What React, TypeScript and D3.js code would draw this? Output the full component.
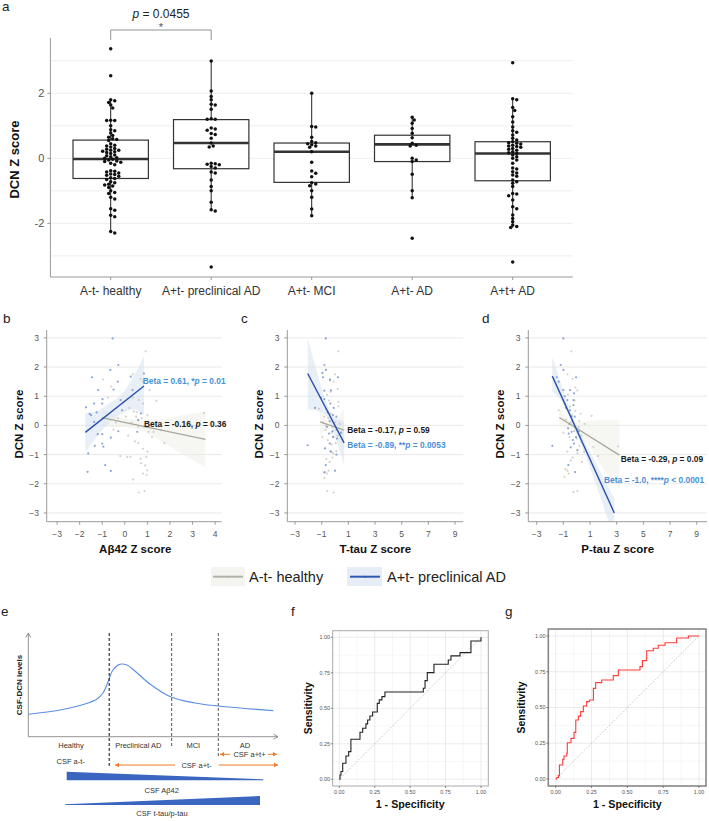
import React from "react";
import * as d3 from "d3";

const FONT = "'Liberation Sans', Arial, Helvetica, sans-serif";

// ---------- Panel a data ----------
const groups = ["A-t- healthy", "A+t- preclinical AD", "A+t- MCI", "A+t- AD", "A+t+ AD"];
const healthy = [3.37, 2.54, 1.8, 1.77, 1.72, 1.64, 1.55, 1.17, 1.16, 1.16, 1.0, 0.88, 0.85, 0.78, 0.7, 0.65, 0.6, 0.58, 0.55, 0.45, 0.4, 0.38, 0.35, 0.3, 0.28, 0.25, 0.25, 0.22, 0.2, 0.18, 0.15, 0.1, 0.08, 0.05, 0.02, 0.0, -0.03, -0.05, -0.08, -0.1, -0.12, -0.15, -0.2, -0.38, -0.4, -0.42, -0.45, -0.48, -0.5, -0.52, -0.55, -0.6, -0.62, -0.65, -0.72, -0.75, -0.8, -0.82, -0.85, -0.9, -1.0, -1.05, -1.08, -1.2, -1.25, -1.55, -1.6, -1.75, -1.8, -2.25, -2.3];
const preclinical = [2.99, 2.07, 1.9, 1.8, 1.66, 1.64, 1.51, 1.22, 1.2, 1.2, 0.93, 0.9, 0.86, 0.76, 0.73, 0.62, 0.47, 0.38, 0.35, -0.15, -0.17, -0.18, -0.2, -0.25, -0.3, -0.42, -0.45, -0.67, -0.87, -1.0, -1.35, -1.58, -1.62, -3.34];
const mci = [2.0, 0.98, 0.96, 0.65, 0.52, 0.48, 0.45, 0.42, 0.38, 0.34, 0.2, -0.12, -0.39, -0.46, -0.57, -0.75, -0.79, -0.84, -1.0, -1.2, -1.56, -1.77];
const atAd = [1.26, 1.18, 1.08, 0.92, 0.77, 0.63, 0.46, 0.4, 0.38, 0.0, -0.05, -0.1, -0.49, -1.0, -1.21, -2.46];
const atPlusAd = [2.94, 1.83, 1.8, 1.56, 1.47, 1.28, 1.12, 0.96, 0.85, 0.8, 0.72, 0.62, 0.56, 0.51, 0.48, 0.46, 0.44, 0.4, 0.38, 0.36, 0.34, 0.3, 0.28, 0.25, 0.2, 0.17, 0.15, 0.1, 0.05, 0.0, -0.05, -0.15, -0.3, -0.33, -0.41, -0.45, -0.51, -0.55, -0.67, -0.72, -0.77, -0.87, -1.08, -1.1, -1.15, -1.28, -1.49, -1.55, -1.74, -1.85, -1.95, -2.05, -2.1, -2.13, -3.19];
const groupValues = [healthy, preclinical, mci, atAd, atPlusAd];
const boxQ1 = [-0.62, -0.32, -0.74, -0.1, -0.69];
const boxMed = [-0.02, 0.47, 0.2, 0.43, 0.15];
const boxQ3 = [0.56, 1.19, 0.47, 0.71, 0.51];
const whiskLo = [-2.3, -1.62, -1.77, -1.21, -2.13];
const whiskHi = [1.77, 2.99, 2.0, 1.26, 1.83];
const aTicks = [-2, 0, 2];
const aGrid = [-3, -2, -1, 0, 1, 2, 3];

// ---------- Panels b, c, d data ----------
const bBlue = [[-0.54,2.98],[-0.29,2.07],[-0.64,1.9],[-1.45,1.65],[0.26,1.67],[-0.31,1.5],[0.85,1.78],[-1.18,1.21],[-0.5,1.23],[0.34,1.21],[-0.99,0.9],[-1.72,0.62],[-1.56,0.4],[-1.5,0.35],[-1.36,0.75],[-1.0,0.75],[-0.19,0.87],[-0.12,0.52],[-1.36,0.12],[-1.2,-0.3],[-1.0,-0.3],[-0.62,-0.42],[-1.0,-0.62],[-1.33,-0.7],[-0.95,-0.73],[-1.62,-0.96],[-0.87,-1.36],[-0.62,-1.56],[-1.65,-1.59],[0.55,-0.22],[-0.29,-0.2],[0.59,0.18],[0.71,0.41],[-1.25,0.45]];
const bGray = [[0.92,2.54],[0.35,1.75],[0.7,1.6],[0.8,1.5],[-0.97,1.57],[-0.6,1.33],[-0.06,0.81],[0.35,0.95],[0.62,0.87],[0.81,0.75],[0.52,0.46],[1.0,0.35],[1.4,0.84],[1.1,1.21],[1.6,-0.16],[3.5,0.42],[0.2,0.6],[0.4,0.48],[0.5,0.3],[0.05,0.3],[-0.4,0.1],[-0.3,0.25],[0.75,0.25],[0.85,-0.05],[1.05,-0.22],[1.27,-0.22],[1.75,-0.6],[0.6,-0.05],[0.25,-1.08],[-0.2,-1.05],[0.1,-1.08],[0.95,-1.08],[1.0,-0.9],[0.9,-1.37],[0.72,-1.3],[0.99,-1.54],[0.8,-1.65],[0.37,-1.85],[0.62,-2.3],[0.87,-2.25],[0.7,-1.15],[0.97,-1.7],[-0.75,0.95],[0.15,-0.35],[0.45,-0.55],[0.6,-0.6],[0.8,-0.8],[1.2,-0.4],[-0.5,-0.15],[0.3,0.1]];
const cBlue = [[-0.7,2.98],[-0.8,2.07],[-0.68,1.9],[-0.95,1.8],[-0.9,1.65],[0.22,1.65],[-0.38,1.55],[-0.3,1.2],[-0.8,1.19],[-1.5,0.6],[-2.05,-0.68],[-0.8,0.9],[-0.35,0.75],[-0.15,0.35],[0.1,0.3],[-0.4,0.15],[-0.6,-0.05],[-0.15,-0.39],[-0.4,-0.62],[-0.75,-0.79],[0.1,-1.0],[-0.7,-1.36],[0.0,-1.55],[-0.8,-1.61],[-0.2,-0.2],[-0.45,-0.28],[0.15,-0.45],[-0.1,0.6],[-0.55,0.45],[-1.05,0.95],[0.45,-0.25],[-0.3,-0.9]];
const cGray = [[0.25,2.54],[-0.38,1.6],[-0.1,1.5],[0.2,1.25],[-0.6,1.05],[0.25,0.81],[0.25,0.65],[-0.5,0.25],[-0.9,0.1],[-1.2,0.57],[-0.7,-0.15],[-0.25,-0.25],[-0.1,-0.4],[-0.55,-0.5],[-0.25,-0.65],[-0.38,-0.88],[0.1,-0.88],[-0.15,-0.95],[-0.65,-1.15],[-0.4,-1.25],[-0.75,-1.6],[-0.5,-1.55],[-0.58,-2.25],[-0.1,-2.3],[-0.8,-1.8],[-0.6,-1.65],[-0.3,0.4],[0.0,0.1],[-0.8,0.3],[0.1,-0.15],[-0.45,0.85],[0.35,0.05],[-0.95,-0.4],[-0.2,-1.1],[0.05,-0.6],[-0.65,0.55],[-0.35,1.15],[0.0,1.75],[-0.7,0.0],[0.2,-0.35]];
const dBlue = [[-1.0,2.98],[-1.2,2.07],[-1.0,1.9],[-1.5,1.65],[-1.35,1.5],[-0.05,1.65],[-1.0,1.21],[-0.5,1.21],[-0.7,0.87],[-0.25,0.87],[-0.5,0.52],[-0.15,0.3],[-0.38,-0.22],[-0.6,-0.28],[-0.05,-0.4],[-0.2,-0.62],[0.05,-0.85],[-1.83,-0.7],[-0.63,-1.36],[-0.12,-1.6],[-0.45,-0.75],[-0.3,-0.5],[-0.8,0.6],[-0.4,0.3],[-0.9,1.0],[-0.2,1.1],[-0.65,-0.1],[0.15,-0.2],[-0.55,0.05],[-0.25,0.7]];
const dGray = [[-0.4,2.54],[-0.7,1.75],[-0.3,1.6],[0.05,1.2],[-0.65,1.05],[-0.5,0.65],[-1.35,0.52],[1.12,0.33],[3.1,-0.72],[1.25,-0.74],[0.55,-0.9],[1.6,-1.05],[0.2,-0.7],[0.05,-0.95],[-0.7,-0.9],[-0.85,-1.5],[-0.6,-1.65],[-0.45,0.1],[0.15,-0.05],[-0.2,-0.2],[-0.25,-2.28],[0.05,-2.25],[-0.92,-1.76],[-0.7,-1.55],[0.4,-1.25],[-0.1,0.5],[-0.35,0.35],[0.3,0.4],[-0.8,0.2],[-0.15,0.85],[0.0,-0.45],[-0.55,-0.4],[-1.0,-0.25],[0.35,-0.35],[-0.3,-1.1],[-0.1,1.3],[-0.9,0.75],[0.6,0.05],[-0.45,-1.2],[0.2,0.15]];

// regression lines [x0,y0,x1,y1]
const bBlueLine = [-1.75, -0.24, 0.85, 1.35];
const bGrayLine = [-1.02, 0.27, 3.57, -0.48];
const cBlueLine = [-2.05, 1.78, 0.68, -0.6];
const cGrayLine = [-1.13, 0.12, 0.68, -0.16];
const dBlueLine = [-1.83, 1.69, 2.82, -3.0];
const dGrayLine = [-1.3, 0.27, 3.2, -1.02];
// confidence bands [x, lo, hi]
const bBlueBand = [[-1.75, -0.9, 0.42], [-1.2, -0.35, 0.5], [-0.6, 0.15, 0.8], [0, 0.45, 1.2], [0.4, 0.55, 1.7], [0.85, 0.35, 2.38]];
const bGrayBand = [[-1.02, -0.05, 0.6], [0.2, -0.08, 0.22], [1.5, -0.49, 0.21], [2.5, -0.96, 0.34], [3.57, -1.43, 0.47]];
const cBlueBand = [[-2.05, 0.55, 3.0], [-1.4, 0.5, 1.9], [-0.7, 0.35, 0.85], [0, -0.4, 0.25], [0.68, -1.36, 0.15]];
const cGrayBand = [[-1.13, -0.3, 0.55], [-0.3, -0.12, 0.12], [0.68, -0.9, 0.55]];
const dBlueBand = [[-1.83, 1.15, 2.35], [-1.0, 0.75, 1.2], [-0.3, 0.0, 0.3], [0.5, -0.85, -0.45], [1.5, -2.1, -1.35], [2.82, -3.9, -2.5]];
const dGrayBand = [[-1.3, -0.05, 0.6], [-0.2, -0.2, 0.1], [1.0, -0.75, 0.15], [2.0, -1.5, 0.18], [3.2, -2.2, 0.18]];
const scYTicks = [-3, -2, -1, 0, 1, 2, 3];
const bXTicks = [-3, -2, -1, 0, 1, 2, 3, 4];
const cdXTicks = [-3, -1, 1, 3, 5, 7, 9];

// ---------- Panel e data ----------
const eCurveX = [0, 12.7, 22.7, 27.5, 29.9, 31.9, 33.9, 36.7, 39.5, 42.7, 48.7, 57.4, 66.7, 76, 86.8, 98.1];
const eCurveY = [0.216, 0.257, 0.315, 0.364, 0.421, 0.527, 0.643, 0.698, 0.691, 0.634, 0.508, 0.38, 0.325, 0.296, 0.272, 0.251];
const eStages = ["Healthy", "Preclinical AD", "MCI", "AD"];
const eBounds = [32.4, 57.4, 76.1];

// ---------- Panels f, g data ----------
const fFpr = [0,0.005,0.012,0.024,0.047,0.066,0.082,0.146,0.165,0.188,0.2,0.216,0.235,0.268,0.282,0.301,0.322,0.593,0.605,0.621,0.668,0.769,0.788,0.852,0.929,1];
const fTpr = [0,0.03,0.055,0.113,0.164,0.195,0.282,0.331,0.359,0.39,0.418,0.446,0.474,0.535,0.559,0.582,0.615,0.641,0.695,0.751,0.81,0.84,0.869,0.892,0.974,1];
const gFpr = [0,0.007,0.019,0.026,0.049,0.058,0.077,0.081,0.107,0.128,0.14,0.158,0.174,0.193,0.216,0.235,0.263,0.279,0.321,0.402,0.437,0.588,0.605,0.635,0.681,0.716,0.763,0.844,0.926,1];
const gTpr = [0,0.01,0.025,0.098,0.137,0.161,0.18,0.254,0.284,0.326,0.413,0.44,0.471,0.51,0.541,0.552,0.634,0.674,0.692,0.723,0.762,0.786,0.828,0.897,0.914,0.935,0.953,0.986,1,1];
const rocTicks = [0, 0.25, 0.5, 0.75, 1];

// ---------- helpers ----------
function swarm(vals: number[], y: (v: number) => number, r: number) {
  const placed: { x: number; y: number }[] = [];
  const sorted = [...vals].sort((a, b) => b - a);
  for (const v of sorted) {
    const py = y(v);
    for (let k = 0; k < 40; k++) {
      const off = k === 0 ? 0 : (k % 2 ? 1 : -1) * Math.ceil(k / 2) * r * 1.15;
      const hit = placed.some((p) => (p.x - off) ** 2 + (p.y - py) ** 2 < (2 * r * 0.92) ** 2);
      if (!hit) { placed.push({ x: off, y: py }); break; }
    }
  }
  return placed;
}
const fmtMinus = (v: number) => (v < 0 ? "\u2212" + Math.abs(v) : String(v));

function PanelA() {
  const L = 50.4, R = 572.8, T = 38, B = 277;
  const y = d3.scaleLinear().domain([-3.65, 3.7]).range([B, T]);
  const x = d3.scalePoint<string>().domain(groups).range([110.7, 512.7]);
  const step = 100.5;
  const hw = step * 0.375;
  return (
    <g>
      <text x={2} y={11} fontSize={13.5} fontFamily={FONT} fill="#222">a</text>
      {aGrid.map((g) => (
        <line key={g} x1={L} x2={R} y1={y(g)} y2={y(g)} stroke="#ebebeb" strokeWidth={0.9} />
      ))}
      {groups.map((g, i) => {
        const cx = x(g)!;
        return (
          <g key={g}>
            <line x1={cx} x2={cx} y1={y(whiskHi[i])} y2={y(boxQ3[i])} stroke="#222" strokeWidth={1} />
            <line x1={cx} x2={cx} y1={y(boxQ1[i])} y2={y(whiskLo[i])} stroke="#222" strokeWidth={1} />
            <rect x={cx - hw} y={y(boxQ3[i])} width={hw * 2} height={y(boxQ1[i]) - y(boxQ3[i])} fill="white" stroke="#333" strokeWidth={1.2} />
            <line x1={cx - hw} x2={cx + hw} y1={y(boxMed[i])} y2={y(boxMed[i])} stroke="#333" strokeWidth={2.6} />
          </g>
        );
      })}
      {groups.map((g, i) => {
        const cx = x(g)!;
        return swarm(groupValues[i], y, 1.75).map((p, j) => (
          <circle key={g + j} cx={cx + p.x} cy={p.y} r={1.75} fill="#111" />
        ));
      })}
      <line x1={L} x2={L} y1={T} y2={B} stroke="#999" strokeWidth={1} />
      <line x1={L} x2={R} y1={B} y2={B} stroke="#999" strokeWidth={1} />
      {aTicks.map((t) => (
        <g key={t}>
          <line x1={L - 3} x2={L} y1={y(t)} y2={y(t)} stroke="#999" />
          <text x={L - 6} y={y(t) + 4} fontSize={11} textAnchor="end" fontFamily={FONT} fill="#555">{t}</text>
        </g>
      ))}
      {groups.map((g) => (
        <g key={g}>
          <line x1={x(g)} x2={x(g)} y1={B} y2={B + 3} stroke="#999" />
          <text x={x(g)} y={295} fontSize={12} textAnchor="middle" fontFamily={FONT} fill="#333">{g}</text>
        </g>
      ))}
      <text transform={`translate(19,${(T + B) / 2 + 2}) rotate(-90)`} fontSize={13} fontWeight="bold" textAnchor="middle" fontFamily={FONT} fill="#111">DCN Z score</text>
      <path d={`M${x(groups[0])},40V30H${x(groups[1])}V40`} fill="none" stroke="#777" strokeWidth={0.8} />
      <text x={(x(groups[0])! + x(groups[1])!) / 2} y={31} fontSize={11} textAnchor="middle" fontFamily={FONT} fill="#555">*</text>
      <text x={(x(groups[0])! + x(groups[1])!) / 2} y={18} fontSize={12} textAnchor="middle" fontFamily={FONT} fill="#222">
        <tspan fontStyle="italic">p</tspan> = 0.0455
      </text>
    </g>
  );
}

type Seg = [string, boolean];
type Txt = { x: number; y: number; color: string; segs: Seg[] };

function Scatter(props: {
  id: string; left: number; right: number; xDomain: [number, number]; xTicks: number[]; xTitle: string;
  label: string; labelX: number; yTitleX: number; tickLabelX: number;
  gray: number[][]; blue: number[][]; grayLine: number[]; blueLine: number[]; grayBand: number[][]; blueBand: number[][]; texts: Txt[];
}) {
  const T = 330, B = 521.7;
  const { left: L, right: R } = props;
  const x = d3.scaleLinear().domain(props.xDomain).range([L, R]);
  const y = d3.scaleLinear().domain([-3.3, 3.27]).range([B, T]);
  const area = d3.area<number[]>().x((d) => x(d[0])).y0((d) => y(d[1])).y1((d) => y(d[2])).curve(d3.curveMonotoneX);
  const line = (l: number[]) => d3.line<number[]>().x((d) => x(d[0])).y((d) => y(d[1]))([[l[0], l[1]], [l[2], l[3]]]);
  return (
    <g>
      <defs>
        <clipPath id={props.id}><rect x={L} y={T} width={R - L} height={B - T} /></clipPath>
      </defs>
      <text x={props.labelX} y={323} fontSize={13.5} fontFamily={FONT} fill="#222">{props.label}</text>
      {scYTicks.map((t) => (
        <line key={t} x1={L} x2={R} y1={y(t)} y2={y(t)} stroke="#e6e6e6" strokeWidth={0.9} />
      ))}
      <g clipPath={`url(#${props.id})`}>
        <path d={area(props.grayBand)!} fill="#ecece4" opacity={0.45} />
        <path d={area(props.blueBand)!} fill="#d3e0ef" opacity={0.5} />
        {props.gray.map((p, i) => (
          <circle key={"g" + i} cx={x(p[0])} cy={y(p[1])} r={1.1} fill="#c4c1b1" opacity={0.7} />
        ))}
        {props.blue.map((p, i) => (
          <circle key={"b" + i} cx={x(p[0])} cy={y(p[1])} r={1.1} fill="#6b90cb" opacity={0.8} />
        ))}
        <path d={line(props.grayLine)!} stroke="#a9a89c" strokeWidth={1.3} fill="none" />
        <path d={line(props.blueLine)!} stroke="#2a4fa8" strokeWidth={1.4} fill="none" />
      </g>
      <line x1={L} x2={L} y1={T} y2={B} stroke="#9a9a9a" strokeWidth={1} />
      <line x1={L} x2={R} y1={B} y2={B} stroke="#9a9a9a" strokeWidth={1} />
      {scYTicks.map((t) => (
        <g key={t}>
          <line x1={L - 3} x2={L} y1={y(t)} y2={y(t)} stroke="#9a9a9a" />
          <text x={props.tickLabelX} y={y(t) + 3} fontSize={8.5} textAnchor="end" fontFamily={FONT} fill="#555">{fmtMinus(t)}</text>
        </g>
      ))}
      {props.xTicks.map((t) => (
        <g key={t}>
          <line x1={x(t)} x2={x(t)} y1={B} y2={B + 3} stroke="#9a9a9a" />
          <text x={x(t)} y={537} fontSize={8.5} textAnchor="middle" fontFamily={FONT} fill="#555">{fmtMinus(t)}</text>
        </g>
      ))}
      <text x={(L + R) / 2 + (props.id === "clipb" ? 1 : 0)} y={553} fontSize={11.5} fontWeight="bold" textAnchor="middle" fontFamily={FONT} fill="#111">{props.xTitle}</text>
      <text transform={`translate(${props.yTitleX},424) rotate(-90)`} fontSize={11.5} fontWeight="bold" textAnchor="middle" fontFamily={FONT} fill="#111">DCN Z score</text>
      {props.texts.map((t, i) => (
        <text key={i} x={t.x} y={t.y} fontSize={8.4} fontWeight="bold" fontFamily={FONT} fill={t.color}>
          {t.segs.map((s, j) => (
            <tspan key={j} fontStyle={s[1] ? "italic" : "normal"}>{s[0]}</tspan>
          ))}
        </text>
      ))}
    </g>
  );
}

function Legend() {
  return (
    <g fontFamily={FONT}>
      <rect x={211} y={567} width={34} height={19} fill="#f4f4f1" />
      <line x1={213} x2={243} y1={576.7} y2={576.7} stroke="#b3b2a8" strokeWidth={2} />
      <circle cx={228} cy={576.7} r={1} fill="#b3b2a8" />
      <text x={249} y={582} fontSize={14.5} fill="#222">A-t- healthy</text>
      <rect x={347} y={567} width={35} height={19} fill="#e6edf6" />
      <line x1={350} x2={380} y1={576.7} y2={576.7} stroke="#2f58b3" strokeWidth={2} />
      <circle cx={365} cy={576.7} r={1} fill="#2f58b3" />
      <text x={387} y={582} fontSize={14.5} fill="#222">A+t- preclinical AD</text>
    </g>
  );
}

function PanelE() {
  const x = d3.scaleLinear().domain([0, 100]).range([28.3, 278]);
  const y = d3.scaleLinear().domain([0, 1]).range([736.7, 633]);
  const pts = eCurveX.map((v, i) => [v, eCurveY[i]]);
  const curve = d3.line<number[]>().x((d) => x(d[0])).y((d) => y(d[1])).curve(d3.curveCatmullRom.alpha(0.5))(pts);
  const stageCenters = [71, 138.3, 193.3, 245];
  const orange = "#f07a26";
  const arrowHead = (xx: number, yy: number, dir: number) => `M${xx - dir * 4},${yy - 2.2}L${xx},${yy}L${xx - dir * 4},${yy + 2.2}Z`;
  return (
    <g fontFamily={FONT}>
      <text x={1} y={616} fontSize={13.5} fill="#222">e</text>
      <line x1={28.3} x2={28.3} y1={634} y2={736.7} stroke="#777" strokeWidth={0.8} />
      <path d="M25.8,637.5L28.3,633L30.8,637.5" fill="none" stroke="#777" strokeWidth={0.8} />
      <line x1={28.3} x2={278} y1={736.7} y2={736.7} stroke="#777" strokeWidth={0.8} />
      <path d="M273.5,734.2L278,736.7L273.5,739.2" fill="none" stroke="#777" strokeWidth={0.8} />
      <path d={curve!} fill="none" stroke="#5b8fe0" strokeWidth={1.1} />
      <line x1={x(eBounds[0])} x2={x(eBounds[0])} y1={633} y2={768} stroke="#222" strokeWidth={1.1} strokeDasharray="3,2" />
      <line x1={x(eBounds[1])} x2={x(eBounds[1])} y1={633} y2={748} stroke="#666" strokeWidth={1.1} strokeDasharray="3,2" />
      <line x1={x(eBounds[2])} x2={x(eBounds[2])} y1={633} y2={757} stroke="#666" strokeWidth={1.1} strokeDasharray="3,2" />
      <text transform="translate(22,685) rotate(-90)" fontSize={8} fontWeight="bold" textAnchor="middle" fill="#222">CSF-DCN levels</text>
      {eStages.map((s, i) => (
        <text key={s} x={stageCenters[i]} y={748} fontSize={7.5} textAnchor="middle" fill="#333">{s}</text>
      ))}
      <text x={70.7} y={764} fontSize={7.5} textAnchor="middle" fill="#333">CSF a-t-</text>
      <line x1={220} x2={230} y1={754.3} y2={754.3} stroke={orange} strokeWidth={1} />
      <path d={arrowHead(220, 754.3, -1)} fill={orange} />
      <text x={249.5} y={757} fontSize={7.5} textAnchor="middle" fill="#333">CSF a+t+</text>
      <line x1={268} x2={277} y1={754.3} y2={754.3} stroke={orange} strokeWidth={1} />
      <path d={arrowHead(277, 754.3, 1)} fill={orange} />
      <line x1={115} x2={175} y1={765} y2={765} stroke={orange} strokeWidth={1} />
      <path d={arrowHead(115, 765, -1)} fill={orange} />
      <text x={196.5} y={767.7} fontSize={7.5} textAnchor="middle" fill="#333">CSF a+t-</text>
      <line x1={218.5} x2={278} y1={765} y2={765} stroke={orange} strokeWidth={1} />
      <path d={arrowHead(278, 765, 1)} fill={orange} />
      <path d="M66.7,771.7L263.3,779.3L263.3,780.3L66.7,780.3Z" fill="#3a66bf" />
      <text x={161.7} y={793} fontSize={7.5} textAnchor="middle" fill="#333">{"CSF A\u03b242"}</text>
      <path d="M65,804.3L260,796L260,805L65,805Z" fill="#3a66bf" />
      <text x={162} y={816} fontSize={7.5} textAnchor="middle" fill="#333">CSF t-tau/p-tau</text>
    </g>
  );
}

function Roc(props: {
  label: string; labelX: number; box: [number, number, number, number]; xr: [number, number]; yr: [number, number];
  fpr: number[]; tpr: number[]; color: string; border: string; borderW: number; tickLabelX: number; yTitleX: number;
}) {
  const [L, T, R, B] = props.box;
  const x = d3.scaleLinear().domain([0, 1]).range(props.xr);
  const y = d3.scaleLinear().domain([0, 1]).range(props.yr);
  const minor = [0.125, 0.375, 0.625, 0.875];
  const pts = props.fpr.map((v, i) => [v, props.tpr[i]]);
  const path = d3.line<number[]>().x((d) => x(d[0])).y((d) => y(d[1])).curve(d3.curveStepAfter)(pts);
  return (
    <g fontFamily={FONT}>
      <text x={props.labelX} y={616} fontSize={13.5} fill="#222">{props.label}</text>
      <rect x={L} y={T} width={R - L} height={B - T} fill="white" />
      {minor.map((t) => (
        <g key={"m" + t}>
          <line x1={x(t)} x2={x(t)} y1={T} y2={B} stroke="#f2f2f2" strokeWidth={0.6} />
          <line x1={L} x2={R} y1={y(t)} y2={y(t)} stroke="#f2f2f2" strokeWidth={0.6} />
        </g>
      ))}
      {rocTicks.map((t) => (
        <g key={"M" + t}>
          <line x1={x(t)} x2={x(t)} y1={T} y2={B} stroke="#e6e6e6" strokeWidth={0.8} />
          <line x1={L} x2={R} y1={y(t)} y2={y(t)} stroke="#e6e6e6" strokeWidth={0.8} />
        </g>
      ))}
      <line x1={x(0)} y1={y(0)} x2={x(1)} y2={y(1)} stroke="#aaa" strokeWidth={0.8} strokeDasharray="1,1.5" />
      <path d={path!} fill="none" stroke={props.color} strokeWidth={1.1} />
      <rect x={L} y={T} width={R - L} height={B - T} fill="none" stroke={props.border} strokeWidth={props.borderW} />
      {rocTicks.map((t) => (
        <g key={"t" + t}>
          <line x1={x(t)} x2={x(t)} y1={B} y2={B + 2} stroke="#444" strokeWidth={0.6} />
          <text x={x(t)} y={B + 7.5} fontSize={5.4} textAnchor="middle" fill="#555">{t.toFixed(2)}</text>
          <line x1={L - 2} x2={L} y1={y(t)} y2={y(t)} stroke="#444" strokeWidth={0.6} />
          <text x={props.tickLabelX} y={y(t) + 1.9} fontSize={5.4} textAnchor="end" fill="#555">{t.toFixed(2)}</text>
        </g>
      ))}
      <text x={(x(0) + x(1)) / 2} y={807.5} fontSize={10.7} fontWeight="bold" textAnchor="middle" fill="#111">1 - Specificity</text>
      <text transform={`translate(${props.yTitleX},${(y(0) + y(1)) / 2}) rotate(-90)`} fontSize={10.4} fontWeight="bold" textAnchor="middle" fill="#111">Sensitivity</text>
    </g>
  );
}

export default function App() {
  const blue = "#4a8fd6";
  const black = "#1a1a1a";
  return (
    <svg width={709} height={821} viewBox="0 0 709 821" style={{ position: "absolute", left: 0, top: 0, background: "white" }} fontFamily={FONT}>
      <rect x={0} y={0} width={709} height={821} fill="white" />
      <PanelA />
      <Scatter id="clipb" left={46.7} right={221.7} xDomain={[-3.46, 4.29]} xTicks={bXTicks} xTitle={"A\u03b242 Z score"}
        label="b" labelX={3} yTitleX={23} tickLabelX={39}
        gray={bGray} blue={bBlue} grayLine={bGrayLine} blueLine={bBlueLine} grayBand={bGrayBand} blueBand={bBlueBand}
        texts={[
          { x: 142.7, y: 383.5, color: blue, segs: [["Beta = 0.61, *", false], ["p", true], [" = 0.01", false]] },
          { x: 144, y: 427, color: black, segs: [["Beta = -0.16, ", false], ["p", true], [" = 0.36", false]] },
        ]} />
      <Scatter id="clipc" left={287.3} right={463.3} xDomain={[-3.58, 9.62]} xTicks={cdXTicks} xTitle="T-tau Z score"
        label="c" labelX={241} yTitleX={263} tickLabelX={279.5}
        gray={cGray} blue={cBlue} grayLine={cGrayLine} blueLine={cBlueLine} grayBand={cGrayBand} blueBand={cBlueBand}
        texts={[
          { x: 347.3, y: 432.5, color: black, segs: [["Beta = -0.17, ", false], ["p", true], [" = 0.59", false]] },
          { x: 347.3, y: 448, color: blue, segs: [["Beta = -0.89, **", false], ["p", true], [" = 0.0053", false]] },
        ]} />
      <Scatter id="clipd" left={528.3} right={707} xDomain={[-3.63, 9.77]} xTicks={cdXTicks} xTitle="P-tau Z score"
        label="d" labelX={482} yTitleX={504} tickLabelX={520.5}
        gray={dGray} blue={dBlue} grayLine={dGrayLine} blueLine={dBlueLine} grayBand={dGrayBand} blueBand={dBlueBand}
        texts={[
          { x: 620.7, y: 462, color: black, segs: [["Beta = -0.29, ", false], ["p", true], [" = 0.09", false]] },
          { x: 604, y: 483.3, color: blue, segs: [["Beta = -1.0, ****", false], ["p", true], [" < 0.0001", false]] },
        ]} />
      <Legend />
      <PanelE />
      <Roc label="f" labelX={291} box={[332.7, 630.7, 488.3, 786]} xr={[339.3, 481]} yr={[779.3, 637.3]}
        fpr={fFpr} tpr={fTpr} color="#222" border="#aaa" borderW={1} tickLabelX={330} yTitleX={312} />
      <Roc label="g" labelX={505} box={[548.3, 629, 706, 786]} xr={[555.7, 699]} yr={[779, 636]}
        fpr={gFpr} tpr={gTpr} color="#ff3b3b" border="#888" borderW={1.6} tickLabelX={545.5} yTitleX={525} />
    </svg>
  );
}
